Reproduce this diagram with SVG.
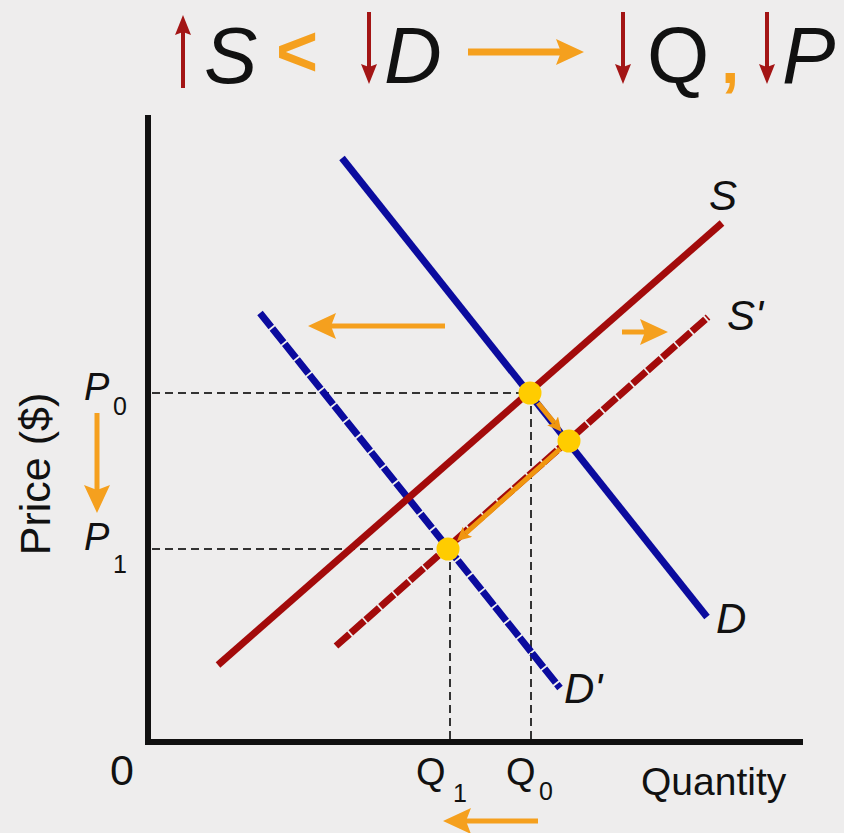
<svg xmlns="http://www.w3.org/2000/svg" width="844" height="833" viewBox="0 0 844 833">
<defs>
<style>
.t{font-family:"Liberation Sans",Arial,sans-serif;fill:#111}
.it{font-style:italic}
.axis{stroke:#111;stroke-width:6;fill:none}
.guide{stroke:#333;stroke-width:2;stroke-dasharray:8 5;fill:none}
.sup{stroke:#A30B0B;stroke-width:7;fill:none;stroke-linecap:butt}
.dem{stroke:#0B0B9E;stroke-width:7;fill:none;stroke-linecap:butt}
.dash{stroke-dasharray:18 1.8}
.or{stroke:#F5A01E;fill:none;stroke-width:5}
.ors{stroke:#F0960F;fill:none;stroke-width:5}
.rd{stroke:#A31515;fill:none;stroke-width:4}
.pt{fill:#FFCC00}
</style>
<marker id="oh" markerUnits="userSpaceOnUse" viewBox="0 0 28 26" refX="5" refY="13" markerWidth="28" markerHeight="26" orient="auto">
<path d="M0,0 L28,13 L0,26 L5,13 z" fill="#F5A01E"/>
</marker>
<marker id="os" markerUnits="userSpaceOnUse" viewBox="0 0 14 14" refX="3" refY="7" markerWidth="14" markerHeight="14" orient="auto">
<path d="M0,0 L14,7 L0,14 L3,7 z" fill="#F0960F"/>
</marker>
<marker id="rh" markerUnits="userSpaceOnUse" viewBox="0 0 20 16" refX="3" refY="8" markerWidth="20" markerHeight="16" orient="auto">
<path d="M0,0 L20,8 L0,16 L3,8 z" fill="#A31515"/>
</marker>
</defs>
<rect x="0" y="0" width="844" height="833" fill="#EEEDED"/>

<g id="title">
<line class="rd" x1="183" y1="88" x2="183" y2="32" marker-end="url(#rh)"/>
<text class="t it" x="204" y="83" font-size="80">S</text>
<text class="t" x="276" y="76" font-size="72" font-weight="bold" style="fill:#F5A01E">&lt;</text>
<line class="rd" x1="369" y1="12" x2="369" y2="67" marker-end="url(#rh)"/>
<text class="t it" x="384" y="83" font-size="80">D</text>
<line class="or" style="stroke-width:7" x1="468" y1="52" x2="561" y2="52" marker-end="url(#oh)"/>
<line class="rd" x1="623" y1="12" x2="623" y2="67" marker-end="url(#rh)"/>
<text class="t" x="647" y="83" font-size="80">Q</text>
<text class="t" x="721" y="83" font-size="66" font-weight="bold" style="fill:#F5A01E">,</text>
<line class="rd" x1="767" y1="12" x2="767" y2="67" marker-end="url(#rh)"/>
<text class="t it" x="782" y="83" font-size="80">P</text>
</g>

<g id="axes">
<line class="axis" x1="148" y1="115" x2="148" y2="745"/>
<line class="axis" x1="145" y1="742" x2="803" y2="742"/>
<text class="t" x="110" y="785" font-size="43">0</text>
<text class="t" x="641" y="795" font-size="39">Quantity</text>
<text class="t" font-size="43" text-anchor="middle" transform="translate(50,474) rotate(-90)">Price ($)</text>
</g>

<g id="guides">
<line class="guide" x1="152" y1="393" x2="530" y2="393"/>
<line class="guide" x1="152" y1="549" x2="448" y2="549"/>
<line class="guide" x1="531" y1="393" x2="531" y2="739"/>
<line class="guide" x1="450" y1="549" x2="450" y2="739"/>
</g>

<g id="curve-D">
<line class="dem" x1="342" y1="158" x2="707" y2="617"/>
<text class="t it" x="716" y="633" font-size="42">D</text>
</g>
<g id="curve-D2">
<line class="dem dash" x1="260" y1="313" x2="560" y2="688"/>
<text class="t it" x="564" y="703" font-size="42">D'</text>
</g>
<g id="curve-S">
<line class="sup" x1="218" y1="665" x2="722" y2="223"/>
<text class="t it" x="709" y="210" font-size="42">S</text>
</g>
<g id="curve-S2">
<line class="sup dash" x1="336" y1="646" x2="708" y2="317"/>
<text class="t it" x="727" y="330" font-size="42">S'</text>
</g>

<g id="connectors">
<line class="ors" x1="538" y1="403" x2="554.5" y2="423.2" marker-end="url(#os)"/>
<line class="ors" x1="560" y1="449" x2="465.2" y2="533.7" marker-end="url(#os)"/>
<line class="or" x1="445" y1="326" x2="331" y2="326" marker-end="url(#oh)"/>
<line class="or" x1="622" y1="332" x2="645" y2="332" marker-end="url(#oh)"/>
<line class="or" x1="97" y1="413" x2="97" y2="490" marker-end="url(#oh)"/>
<line class="or" x1="538" y1="821" x2="466" y2="821" marker-end="url(#oh)"/>
</g>

<g id="E0"><circle class="pt" cx="530" cy="393" r="11.5"/></g>
<g id="E1"><circle class="pt" cx="569" cy="441" r="11.5"/></g>
<g id="E2"><circle class="pt" cx="448" cy="549" r="11.5"/></g>

<g id="labels">
<text class="t it" x="84" y="400" font-size="38">P</text>
<text class="t" x="113" y="415" font-size="25">0</text>
<text class="t it" x="84" y="550" font-size="38">P</text>
<text class="t" x="113" y="573" font-size="25">1</text>
<text class="t" x="416" y="785" font-size="38">Q</text>
<text class="t" x="453" y="802" font-size="25">1</text>
<text class="t" x="506" y="785" font-size="38">Q</text>
<text class="t" x="539" y="800" font-size="25">0</text>
</g>
</svg>
